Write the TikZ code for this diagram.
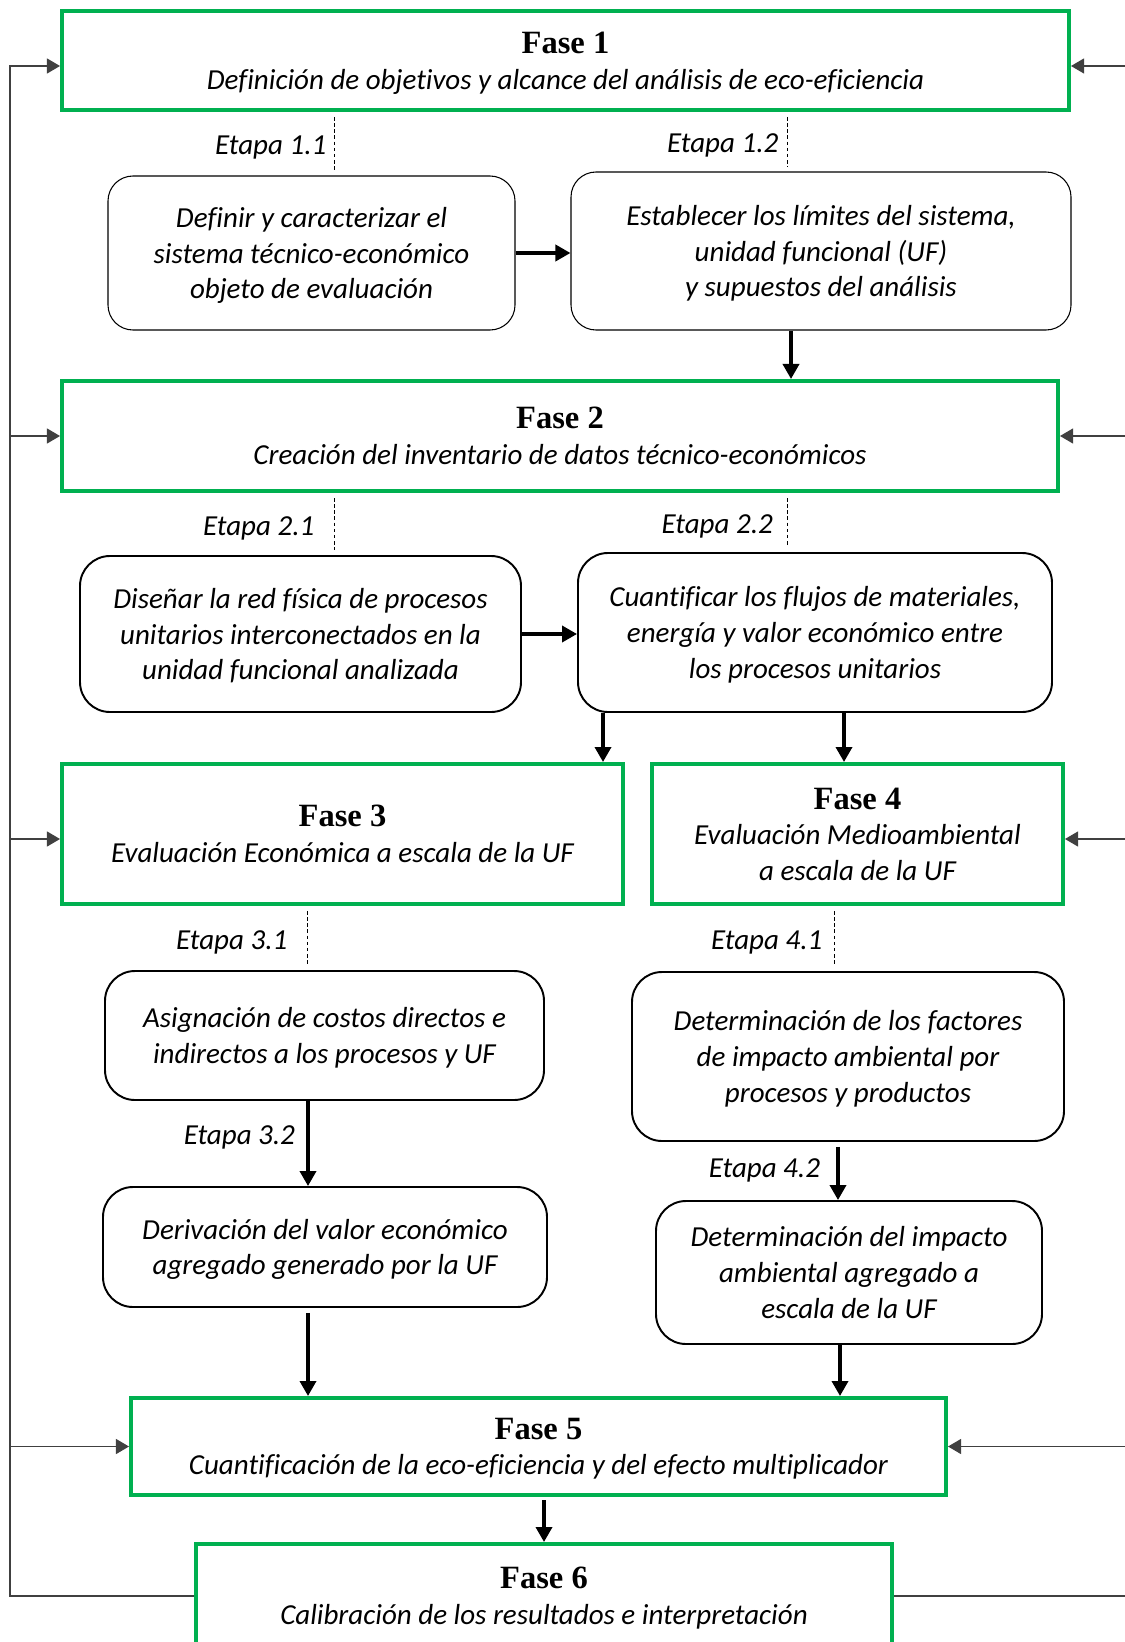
\documentclass[tikz,border=0pt]{standalone}
\usepackage{fontspec}
\setmainfont{Carlito}[Ligatures={TeX,NoCommon}]
\newfontfamily\fasefont{Liberation Serif}
\usetikzlibrary{arrows.meta, calc, positioning}
\definecolor{fasegreen}{RGB}{0,176,80}
\newcommand{\boxfont}{\fontsize{16.5}{20.3}\selectfont\itshape}
\newcommand{\fasetit}[1]{{\fasefont\bfseries\upshape\fontsize{18.5}{22}\selectfont #1}}
\tikzset{
    textoabajo/.style={execute at begin node={\rule{0pt}{#1}}, execute at end node={\rule[-4.5pt]{0pt}{0pt}}},
    fase/.style={rectangle, draw=fasegreen, line width=0.8mm, align=center, inner sep=0pt, font=\boxfont, text depth=0pt},
    paso/.style={rectangle, rounded corners=6mm, draw=black, line width=1.1pt, align=center, inner sep=0pt, font=\boxfont, text depth=0pt},
    pasofino/.style={paso, rounded corners=5mm, line width=0.6pt},
    arrow/.style={line width=2pt, -{Triangle[length=3mm, width=3.2mm]}},
    retro/.style={line width=0.6pt, draw=black!75, -{Triangle[length=2.6mm, width=3mm]}},
    retrolinea/.style={line width=0.6pt, draw=black!75},
    etapa/.style={dash pattern=on 2pt off 1.5pt, line width=0.5pt, shorten <=1mm, shorten >=1mm},
    etapatxt/.style={left, inner sep=3pt, font=\boxfont, textoabajo=17pt}
}

\begin{document}
\begin{tikzpicture}[x=0.2mm, y=-0.2mm]
    \useasboundingbox (0,0) rectangle (1124,1642);

    % Fases
    \node (f1) [fase, minimum width=201.4mm, minimum height=19.8mm] at (565.5,60.5) {\fasetit{Fase 1}\\Definición de objetivos y alcance del análisis de eco-eficiencia};
    \node (f2) [fase, minimum width=199.2mm, minimum height=22mm] at (560,436) {\fasetit{Fase 2}\\Creación del inventario de datos técnico-económicos};
    \node (f3) [fase, minimum width=112.2mm, minimum height=28mm] at (342.5,834) {\fasetit{Fase 3}\\Evaluación Económica a escala de la UF};
    \node (f4) [fase, minimum width=82.2mm, minimum height=28mm] at (857.5,834) {\fasetit{Fase 4}\\Evaluación Medioambiental\\a escala de la UF};
    \node (f5) [fase, minimum width=163mm, minimum height=19.4mm] at (538.5,1446.5) {\fasetit{Fase 5}\\Cuantificación de la eco-eficiencia y del efecto multiplicador};
    \node (f6) [fase, minimum width=139.2mm, minimum height=20.8mm] at (544,1596) {\fasetit{Fase 6}\\Calibración de los resultados e interpretación};

    % Etapas
    \node (b11) [pasofino, minimum width=81.4mm, minimum height=30.8mm] at (311.5,253) {Definir y caracterizar el\\sistema técnico-económico\\objeto de evaluación};
    \node (b12) [pasofino, minimum width=100mm, minimum height=31.6mm] at (821,251) {Establecer los límites del sistema,\\unidad funcional (UF)\\y supuestos del análisis};
    \node (b21) [paso, minimum width=88.2mm, minimum height=31.2mm] at (300.5,634) {Diseñar la red física de procesos\\unitarios interconectados en la\\unidad funcional analizada};
    \node (b22) [paso, minimum width=94.8mm, minimum height=31.8mm] at (815,632.5) {Cuantificar los flujos de materiales,\\energía y valor económico entre\\los procesos unitarios};
    \node (b31) [paso, minimum width=87.8mm, minimum height=25.8mm] at (324.5,1035.5) {Asignación de costos directos e\\indirectos a los procesos y UF};
    \node (b32) [paso, minimum width=88.8mm, minimum height=24mm] at (325,1247) {Derivación del valor económico\\agregado generado por la UF};
    \node (b41) [paso, minimum width=86.4mm, minimum height=33.8mm] at (848,1056.5) {Determinación de los factores\\de impacto ambiental por\\procesos y productos};
    \node (b42) [paso, minimum width=77.2mm, minimum height=28.6mm] at (849,1272.5) {Determinación del impacto\\ambiental agregado a\\escala de la UF};

    % Lineas de etapa (punteadas)
    \coordinate (e11) at ($(b11.north)+(22.5,0)$);
    \coordinate (e12) at ($(b12.north)+(-34,0)$);
    \coordinate (e21) at ($(b21.north)+(33.5,0)$);
    \coordinate (e22) at ($(b22.north)+(-28,0)$);
    \coordinate (e31) at ($(b31.north)+(-17.5,0)$);
    \coordinate (e41) at ($(b41.north)+(-14,0)$);
    \draw[etapa] (e11 |- f1.south) -- (e11) node (t11) [etapatxt, midway, xshift=-0.4mm] {Etapa 1.1};
    \draw[etapa] (e12 |- f1.south) -- (e12) node (t12) [etapatxt, midway, xshift=-0.6mm] {Etapa 1.2};
    \draw[etapa] (e21 |- f2.south) -- (e21) node (t21) [etapatxt, midway, xshift=-2.8mm] {Etapa 2.1};
    \draw[etapa] (e22 |- f2.south) -- (e22) node (t22) [etapatxt, midway, xshift=-1.7mm] {Etapa 2.2};
    \draw[etapa] (e31 |- f3.south) -- (e31) node (t31) [etapatxt, midway, xshift=-2.8mm] {Etapa 3.1};
    \draw[etapa] (e41 |- f4.south) -- (e41) node (t41) [etapatxt, midway, xshift=-1.2mm] {Etapa 4.1};

    % Flechas
    \draw[arrow] (b11.east) -- (b11.east -| b12.west);
    \coordinate (a2) at ($(b12.south)+(-30,0)$);
    \draw[arrow] (a2) -- (a2 |- f2.north);
    \draw[arrow] (b21.east) -- (b21.east -| b22.west);
    \coordinate (a3) at ($(b22.south)+(-212,0)$);
    \coordinate (a4) at ($(b22.south)+(29,0)$);
    \draw[arrow] (a3) -- (a3 |- f3.north);
    \draw[arrow] (a4) -- (a4 |- f4.north);
    \coordinate (a32) at ($(b31.south)+(-16.5,0)$);
    \draw[arrow] (a32) -- (a32 |- b32.north) node (t32) [etapatxt, midway, xshift=-1.2mm, yshift=2mm] {Etapa 3.2};
    \coordinate (a42) at ($(b41.south)+(-10,5)$);
    \draw[arrow] (a42) -- (a42 |- b42.north) node (t42) [etapatxt, midway, xshift=-2.2mm, yshift=1.4mm] {Etapa 4.2};
    \coordinate (a5i) at ($(b32.south)+(-17,5)$);
    \coordinate (a5d) at ($(b42.south)+(-9,0)$);
    \draw[arrow] (a5i) -- (a5i |- f5.north);
    \draw[arrow] (a5d) -- (a5d |- f5.north);
    \coordinate (a6) at ($(f5.south)+(5.5,3)$);
    \draw[arrow] (a6) -- (a6 |- f6.north);

    % Retroalimentacion
    \coordinate (izq) at (10,0);
    \coordinate (der) at (1130,0);
    \coordinate (r1i) at ($(f1.west)+(0,5.5)$);
    \coordinate (r1d) at ($(f1.east)+(0,5.5)$);
    \coordinate (r3i) at ($(f3.west)+(0,5)$);
    \coordinate (r4d) at ($(f4.east)+(0,5)$);
    \draw[retro] (f6.west) -- (f6.west -| izq) |- (r1i);
    \foreach \f in {f2.west,r3i,f5.west}
        \draw[retro] (\f -| izq) -- (\f);
    \foreach \f in {r1d,f2.east,r4d,f5.east}
        \draw[retro] (\f -| der) -- (\f);
    \draw[retrolinea] (f6.east) -- (f6.east -| der);
\end{tikzpicture}
\end{document}
